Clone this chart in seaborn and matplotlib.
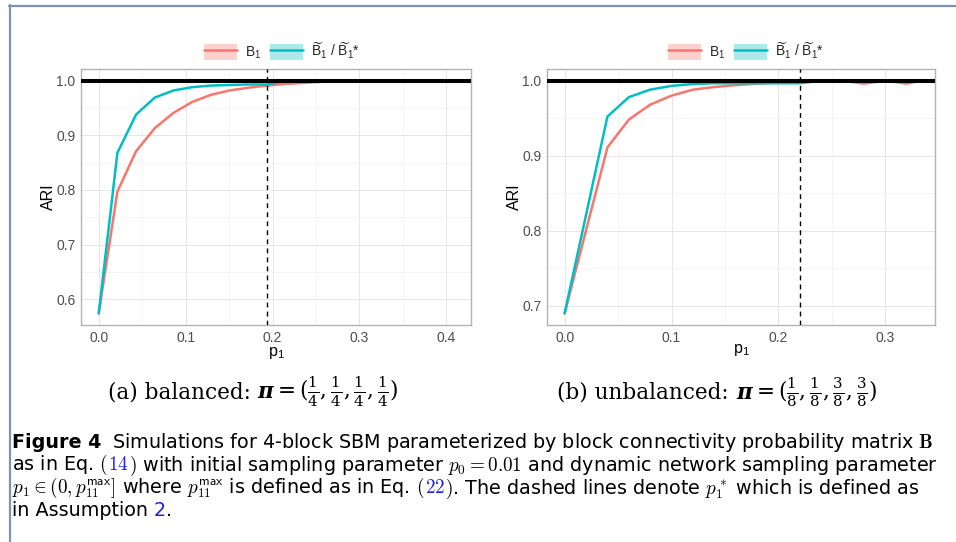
import matplotlib
matplotlib.use("Agg")
import matplotlib.pyplot as plt
import numpy as np
import pandas as pd
import seaborn as sns
from matplotlib.patches import Patch
from matplotlib.lines import Line2D
from matplotlib.ticker import AutoMinorLocator
from matplotlib.offsetbox import TextArea, HPacker, AnnotationBbox, DrawingArea

# ---- data -------------------------------------------------------------
# (a) balanced block sizes
p1_bal = [0.0, 0.0215, 0.043, 0.0645, 0.086, 0.1075, 0.129, 0.1505, 0.172, 0.1935,
          0.215, 0.2365, 0.258, 0.2795, 0.301, 0.3225, 0.344, 0.3655, 0.387, 0.408]
ari_b1_bal = [0.574, 0.797, 0.871, 0.913, 0.941, 0.961, 0.974, 0.982, 0.987, 0.991,
              0.994, 0.996, 0.998, 0.999, 1.0, 1.0, 1.0, 1.0, 1.0, 1.0]
ari_bt_bal = [0.574, 0.868, 0.938, 0.969, 0.982, 0.988, 0.991, 0.992, 0.993, 0.993,
              0.999, 1.0, 1.0, 1.0, 1.0, 1.0, 1.0, 1.0, 1.0, 1.0]
pstar_bal = 0.194

# (b) unbalanced block sizes
p1_unb = [0.0, 0.04, 0.06, 0.08, 0.10, 0.12, 0.14, 0.16, 0.18, 0.20, 0.22,
          0.24, 0.26, 0.28, 0.30, 0.32, 0.33]
ari_b1_unb = [0.690, 0.911, 0.948, 0.968, 0.980, 0.988, 0.9915, 0.994, 0.996, 0.9975, 0.999,
              1.0, 1.0, 0.996, 1.0, 0.996, 0.999]
ari_bt_unb = [0.690, 0.952, 0.978, 0.988, 0.993, 0.9955, 0.9965, 0.9965, 0.9965, 0.9965, 0.9965,
              1.0, 1.0, 1.0, 1.0, 1.0, 1.0]
pstar_unb = 0.220

x_ticks_bal = [0.0, 0.1, 0.2, 0.3, 0.4]
y_ticks_bal = [0.6, 0.7, 0.8, 0.9, 1.0]
x_ticks_unb = [0.0, 0.1, 0.2, 0.3]
y_ticks_unb = [0.7, 0.8, 0.9, 1.0]

method_labels = [r"$\mathrm{B}_1$",
                 r"$\widetilde{\mathrm{B}}_1$ / $\widetilde{\mathrm{B}}_1$*"]
method_colors = ["#F8766D", "#00BFC4"]

# ---- style ------------------------------------------------------------
sns.set_theme(style="white")
plt.rcParams["font.family"] = ["Liberation Sans", "DejaVu Sans"]
plt.rcParams["mathtext.fontset"] = "custom"
plt.rcParams["mathtext.rm"] = "Liberation Sans"
plt.rcParams["mathtext.it"] = "Liberation Sans:italic"
plt.rcParams["mathtext.bf"] = "Liberation Sans:bold"

W, H = 956, 542
fig = plt.figure(figsize=(W / 100, H / 100), dpi=100)
fig.patch.set_facecolor("white")


def frac_x(px):
    return px / W


def frac_y(py):
    return 1 - py / H


def expand(lo, hi, mult=0.05):
    d = (hi - lo) * mult
    return lo - d, hi + d


def draw_panel(rect, p1, b1, bt, pstar, xt, yt, ylab_x, xlab_y):
    ax = fig.add_axes(rect)
    df = pd.DataFrame({
        "p1": list(p1) + list(p1),
        "ARI": list(b1) + list(bt),
        "method": [method_labels[0]] * len(p1) + [method_labels[1]] * len(p1),
    })
    sns.lineplot(data=df, x="p1", y="ARI", hue="method", hue_order=method_labels,
                 palette=dict(zip(method_labels, method_colors)), linewidth=1.8,
                 estimator=None, sort=False, legend=False, ax=ax)
    ax.axhline(1.0, color="black", lw=2.9, zorder=5)
    ax.axvline(pstar, color="black", lw=1.0, ls=(0, (3.5, 3)), zorder=6)

    ax.set_xlim(*expand(min(p1), max(p1)))
    ax.set_ylim(*expand(min(min(b1), min(bt)), max(max(b1), max(bt), 1.0)))
    ax.set_xticks(xt)
    ax.set_yticks(yt)
    ax.set_xticklabels([f"{v:.1f}" for v in xt])
    ax.set_yticklabels([f"{v:.1f}" for v in yt])
    ax.xaxis.set_minor_locator(AutoMinorLocator(2))
    ax.yaxis.set_minor_locator(AutoMinorLocator(2))
    ax.set_axisbelow(True)
    ax.grid(which="major", color="#E6E6E6", lw=0.7)
    ax.grid(which="minor", color="#F2F2F2", lw=0.5)
    ax.tick_params(which="major", length=2.5, width=0.8, color="#B3B3B3",
                   labelcolor="#4D4D4D", labelsize=10, pad=1.5)
    ax.tick_params(which="minor", length=0)
    for sp in ax.spines.values():
        sp.set_color("#B3B3B3")
        sp.set_linewidth(1.0)
    ax.set_xlabel(r"$\mathrm{p}_1$", fontsize=11.5, color="black")
    ax.set_ylabel("ARI", fontsize=11.5, color="black")
    ax.yaxis.set_label_coords(ylab_x, 0.5)
    ax.xaxis.set_label_coords(0.5, xlab_y)
    return ax


ax_a = draw_panel([frac_x(81), frac_y(325), (471 - 81) / W, (325 - 69) / H],
                  p1_bal, ari_b1_bal, ari_bt_bal, pstar_bal, x_ticks_bal, y_ticks_bal,
                  -0.063, -0.078)
ax_b = draw_panel([frac_x(547), frac_y(325), (935 - 547) / W, (325 - 69) / H],
                  p1_unb, ari_b1_unb, ari_bt_unb, pstar_unb, x_ticks_unb, y_ticks_unb,
                  -0.064, -0.068)

# legends above each panel: ribbon fill with line on top
handles = [(Patch(facecolor=c, alpha=0.33, edgecolor="none"),
            Line2D([], [], color=c, lw=1.8)) for c in method_colors]
for cx in (282, 746):
    fig.legend(handles, method_labels, loc="center",
               bbox_to_anchor=(frac_x(cx), frac_y(51)), ncol=2, frameon=False,
               fontsize=10, handlelength=2.4, handleheight=1.4,
               handletextpad=0.55, columnspacing=0.6, borderaxespad=0)


def place_line(segments, x, y, fontsize, align=(0.0, 0.5)):
    """Lay out text pieces side by side on a common baseline; a number is a gap in points."""
    children = []
    for seg in segments:
        if isinstance(seg, (int, float)):
            children.append(DrawingArea(seg, 0.1))
        else:
            t, p = seg
            children.append(TextArea(t, textprops=dict(fontsize=fontsize, **p)))
    pack = HPacker(children=children, align="baseline", pad=0, sep=0)
    ab = AnnotationBbox(pack, (frac_x(x), frac_y(y)), xycoords="figure fraction",
                        box_alignment=align, frameon=False, pad=0)
    fig.add_artist(ab)


serif = dict(family="DejaVu Serif", math_fontfamily="dejavuserif", color="black")
bold_pi = dict(family="DejaVu Serif", weight="bold", style="italic", color="black")

sub_fs = 15.5
place_line([("(a) balanced:", serif), 5, ("\u03c0", bold_pi),
            (r"$= (\frac{1}{4}, \frac{1}{4}, \frac{1}{4}, \frac{1}{4})$", serif)],
           253, 392, sub_fs, align=(0.5, 0.5))
place_line([("(b) unbalanced:", serif), 5, ("\u03c0", bold_pi),
            (r"$= (\frac{1}{8}, \frac{1}{8}, \frac{3}{8}, \frac{3}{8})$", serif)],
           717, 392, sub_fs, align=(0.5, 0.5))

blue = "#2020E0"
txt = dict(family="DejaVu Sans", math_fontfamily="cm", color="black")
txt_blue = dict(family="DejaVu Sans", math_fontfamily="cm", color=blue)
txt_bold = dict(family="DejaVu Sans", color="black", weight="bold")

cap_fs = 13.8
place_line([("Figure 4", txt_bold), 8,
            (r"Simulations for 4-block SBM parameterized by block connectivity probability matrix $\mathbf{B}$", txt)],
           12, 442, cap_fs)
place_line([(r"as in Eq. $($", txt), (r"$14$", txt_blue),
            (r"$)$ with initial sampling parameter $p_0 = 0.01$ and dynamic network sampling parameter", txt)],
           12, 465, cap_fs)
place_line([(r"$p_1 \in (0, p_{11}^{\mathsf{max}}]$ where $p_{11}^{\mathsf{max}}$ is defined as in Eq. $($", txt),
            (r"$22$", txt_blue),
            (r"$)$. The dashed lines denote $p_1^*$ which is defined as", txt)],
           12, 488, cap_fs)
place_line([("in Assumption", txt), 4, ("2", dict(family="DejaVu Sans", color=blue)),
            (".", dict(family="DejaVu Sans", color="black"))],
           12, 511, cap_fs)

# page frame
frame_c = "#7D93B0"
fig.add_artist(Line2D([frac_x(9), 1.0], [frac_y(5.5), frac_y(5.5)],
                      transform=fig.transFigure, color=frame_c, lw=1.6))
fig.add_artist(Line2D([frac_x(9.5), frac_x(9.5)], [0.0, frac_y(5)],
                      transform=fig.transFigure, color=frame_c, lw=1.6))

fig.savefig("out.png", dpi=100, facecolor="white")
